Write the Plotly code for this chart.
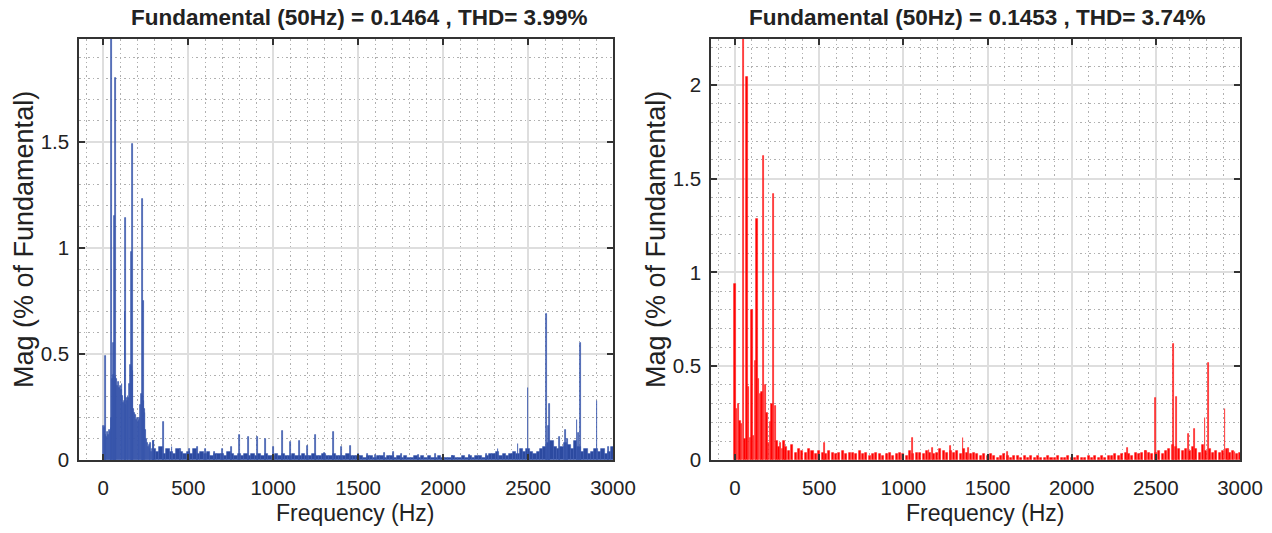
import numpy as np
import plotly.graph_objects as go

# ---------------- data ----------------
titles = ["Fundamental (50Hz) = 0.1464 , THD= 3.99%",
          "Fundamental (50Hz) = 0.1453 , THD= 3.74%"]
x_label = "Frequency (Hz)"
y_label = "Mag (% of Fundamental)"
x_ticks = [0, 500, 1000, 1500, 2000, 2500, 3000]

# Left (blue) spectrum: low-frequency band 0..300 Hz every 5 Hz
blue_low_start, blue_low_step = 0, 5
blue_low = [0.16, 0.15, 0.16, 0.12, 0.11, 0.13, 0.12, 0.14, 0.13, 0.15,
            0.20, 0.38, 0.40, 0.37, 0.39, 0.36, 0.38, 0.35, 0.37, 0.34,
            0.35, 0.33, 0.36, 0.30, 0.27, 0.28, 0.26, 0.29, 0.28, 0.30,
            0.29, 0.36, 0.45, 0.44, 0.42, 0.23, 0.24, 0.22, 0.21, 0.19,
            0.20, 0.18, 0.19, 0.20, 0.26, 0.31, 0.30, 0.28, 0.24, 0.22,
            0.14, 0.10, 0.08, 0.06, 0.07, 0.05, 0.08, 0.04, 0.05, 0.09,
            0.04]
# Left noise floor 300..3000 Hz every 20 Hz
blue_noise_start, blue_noise_step = 300, 20
blue_noise = [0.05, 0.04, 0.06, 0.03, 0.05, 0.04, 0.03, 0.05, 0.04, 0.03,
              0.04, 0.03, 0.05, 0.03, 0.04, 0.03, 0.04, 0.02, 0.03, 0.03,
              0.03, 0.02, 0.04, 0.03, 0.02, 0.03, 0.02, 0.03, 0.02, 0.03,
              0.02, 0.03, 0.02, 0.03, 0.02, 0.02, 0.03, 0.02, 0.03, 0.02,
              0.02, 0.03, 0.02, 0.02, 0.03, 0.02, 0.02, 0.03, 0.02, 0.02,
              0.03, 0.02, 0.02, 0.03, 0.02, 0.02, 0.02, 0.03, 0.02, 0.02,
              0.02, 0.02, 0.01, 0.02, 0.02, 0.01, 0.02, 0.02, 0.01, 0.02,
              0.02, 0.01, 0.02, 0.01, 0.02, 0.01, 0.01, 0.02, 0.01, 0.02,
              0.01, 0.02, 0.01, 0.01, 0.02, 0.01, 0.01, 0.01, 0.02, 0.01,
              0.01, 0.02, 0.01, 0.02, 0.01, 0.02, 0.02, 0.01, 0.02, 0.03,
              0.03, 0.04, 0.02, 0.03, 0.02, 0.03, 0.04, 0.03, 0.05, 0.04,
              0.05, 0.04, 0.03, 0.04, 0.05, 0.06, 0.08, 0.09, 0.06, 0.05,
              0.06, 0.08, 0.07, 0.05, 0.09, 0.06, 0.04, 0.05, 0.03, 0.04,
              0.05, 0.04, 0.05, 0.03, 0.04, 0.06]
# Left discrete spectral lines
blue_peak_freq = [13, 50, 60, 65, 73, 128, 131, 168, 172, 231, 236, 294, 353,
                  404, 452, 505, 555, 604, 655, 704, 754, 804, 853, 906, 955,
                  1004, 1053, 1102, 1153, 1202, 1251, 1304, 1353, 1402, 1453,
                  1503, 1553, 1603, 1653, 1706, 1755, 1855, 1955, 2053, 2153,
                  2253, 2323, 2441, 2500, 2608, 2618, 2626, 2687, 2722, 2730,
                  2788, 2795, 2808, 2906, 2975]
blue_peak_mag = [0.49, 100.0, 0.55, 1.15, 1.80, 0.70, 1.14, 0.98, 1.49, 1.23, 0.75, 0.09, 0.18,
                 0.06, 0.05, 0.05, 0.06, 0.05, 0.04, 0.05, 0.06, 0.12, 0.11, 0.11, 0.10,
                 0.06, 0.136, 0.086, 0.089, 0.064, 0.12, 0.035, 0.133, 0.061, 0.064,
                 0.03, 0.03, 0.025, 0.034, 0.038, 0.03, 0.025, 0.03, 0.02, 0.025,
                 0.03, 0.05, 0.074, 0.34, 0.69, 0.16, 0.265, 0.11, 0.14, 0.10,
                 0.19, 0.125, 0.55, 0.28, 0.063]

# Right (red) spectrum: low band 0..300 Hz every 10 Hz
red_low_start, red_low_step = 0, 10
red_low = [0.94, 0.27, 0.30, 0.21, 0.19, 100.0, 0.11, 2.04, 0.39, 0.12,
           0.80, 0.13, 0.53, 1.285, 0.43, 0.35, 0.36, 1.62, 0.40, 0.25,
           0.09, 0.20, 0.30, 1.42, 0.29, 0.10, 0.07, 0.09, 0.06, 0.10,
           0.05]
# Right noise floor 300..3000 Hz every 20 Hz
red_noise_start, red_noise_step = 300, 20
red_noise = [0.07, 0.05, 0.08, 0.04, 0.06, 0.05, 0.04, 0.06, 0.05, 0.03,
             0.05, 0.04, 0.03, 0.05, 0.04, 0.03, 0.04, 0.05, 0.03, 0.04,
             0.04, 0.03, 0.05, 0.03, 0.04, 0.02, 0.03, 0.04, 0.03, 0.02,
             0.03, 0.04, 0.02, 0.03, 0.04, 0.03, 0.02, 0.05, 0.03, 0.04,
             0.04, 0.03, 0.05, 0.04, 0.03, 0.04, 0.06, 0.05, 0.04, 0.05,
             0.04, 0.05, 0.03, 0.06, 0.04, 0.03, 0.04, 0.03, 0.02, 0.03,
             0.02, 0.03, 0.02, 0.01, 0.02, 0.03, 0.02, 0.01, 0.02, 0.02,
             0.01, 0.02, 0.01, 0.02, 0.01, 0.02, 0.01, 0.01, 0.02, 0.01,
             0.01, 0.02, 0.01, 0.01, 0.02, 0.01, 0.01, 0.02, 0.01, 0.01,
             0.02, 0.01, 0.02, 0.01, 0.02, 0.01, 0.02, 0.02, 0.03, 0.02,
             0.03, 0.04, 0.03, 0.02, 0.04, 0.03, 0.04, 0.05, 0.04, 0.03,
             0.04, 0.05, 0.03, 0.05, 0.06, 0.08, 0.07, 0.06, 0.05, 0.06,
             0.05, 0.07, 0.06, 0.04, 0.08, 0.05, 0.06, 0.04, 0.05, 0.04,
             0.05, 0.06, 0.04, 0.05, 0.03, 0.04]
red_peak_freq = [532, 1052, 1152, 1172, 1280, 1354, 1387, 1617, 2332, 2439,
                 2500, 2603, 2623, 2693, 2729, 2792, 2812, 2911, 2931, 2970]
red_peak_mag = [0.09, 0.12, 0.055, 0.062, 0.076, 0.115, 0.062, 0.044, 0.062, 0.05,
                0.332, 0.617, 0.337, 0.138, 0.168, 0.225, 0.518, 0.27, 0.06, 0.045]

y_max = [1.985, 2.245]

# ---------------- figure ----------------
FONT = "Liberation Sans, Arial, sans-serif"
W, H = 1272, 533
TXT = "#222"

blue = "rgb(44,74,160)"
blue_edge = "rgba(60,90,175,0.8)"
red = "rgb(255,0,0)"
red_edge = "rgba(255,40,40,0.8)"

def grid(start, step, n):
    return [start + step * i for i in range(n)]

fig = go.Figure()

def add_bars(x, y, width, color, edge, xa, ya):
    fig.add_trace(go.Bar(x=x, y=y, width=width, marker=dict(color=color, line=dict(color=edge, width=0.8)),
                         xaxis=xa, yaxis=ya, showlegend=False, hoverinfo="x+y"))

# left
add_bars(grid(blue_low_start, blue_low_step, len(blue_low)), blue_low, 5, blue, blue_edge, "x", "y")
add_bars(grid(blue_noise_start, blue_noise_step, len(blue_noise)), blue_noise, 20, blue, blue_edge, "x", "y")
add_bars(blue_peak_freq, blue_peak_mag, 5, blue, blue_edge, "x", "y")
# right
add_bars(grid(red_low_start, red_low_step, len(red_low)), red_low, 8, red, red_edge, "x2", "y2")
add_bars(grid(red_noise_start, red_noise_step, len(red_noise)), red_noise, 12, red, red_edge, "x2", "y2")
add_bars(red_peak_freq, red_peak_mag, 5, red, red_edge, "x2", "y2")

xdom = [[79 / W, 613 / W], [711 / W, 1240 / W]]
ydom = [(H - 460) / H, (H - 39) / H]

def xaxis(dom, anchor):
    return dict(domain=dom, anchor=anchor, range=[-143, 3000], tickvals=x_ticks,
                automargin=False,
                ticks="inside", ticklen=6, tickwidth=1.5, tickcolor="#333",
                showline=True, linecolor="#333", linewidth=1.5, mirror="ticks",
                showgrid=True, gridcolor="#dedede", gridwidth=1.5, zeroline=False,
                minor=dict(dtick=100, tick0=0, showgrid=True, gridcolor="#b0b0b0",
                           griddash="1.5px,3px", gridwidth=1, ticks=""),
                tickfont=dict(family=FONT, size=20.5, color=TXT),
                ticklabelstandoff=9)

def yaxis(dom, anchor, ymax):
    return dict(domain=dom, anchor=anchor, range=[0, ymax], dtick=0.5, tick0=0,
                automargin=False,
                ticks="inside", ticklen=6, tickwidth=1.5, tickcolor="#333",
                showline=True, linecolor="#333", linewidth=1.5, mirror="ticks",
                showgrid=True, gridcolor="#dedede", gridwidth=1.5, zeroline=False,
                minor=dict(dtick=0.1, tick0=0, showgrid=True, gridcolor="#b0b0b0",
                           griddash="1.5px,3px", gridwidth=1, ticks=""),
                tickfont=dict(family=FONT, size=20.5, color=TXT),
                ticklabelstandoff=4)

def ann(text, x, y, size, angle=0):
    return dict(text=text, x=x / W, y=1 - y / H, xref="paper", yref="paper",
                xanchor="center", yanchor="middle", showarrow=False, textangle=angle,
                font=dict(family=FONT, size=size, color=TXT))

fig.update_layout(
    width=W, height=H, margin=dict(l=0, r=0, t=0, b=0),
    paper_bgcolor="white", plot_bgcolor="white",
    barmode="overlay", bargap=0,
    xaxis=xaxis(xdom[0], "y"), yaxis=yaxis(ydom, "x", y_max[0]),
    xaxis2=xaxis(xdom[1], "y2"), yaxis2=yaxis(ydom, "x2", y_max[1]),
    annotations=[
        ann("<b>%s</b>" % titles[0], 359, 18, 22.5),
        ann("<b>%s</b>" % titles[1], 977, 18, 22.5),
        ann(x_label, 355, 513, 23),
        ann(x_label, 985, 513, 23),
        ann(y_label, 24, 240, 27, -90),
        ann(y_label, 656, 240, 27, -90),
    ],
)

fig.write_html("out.html")
